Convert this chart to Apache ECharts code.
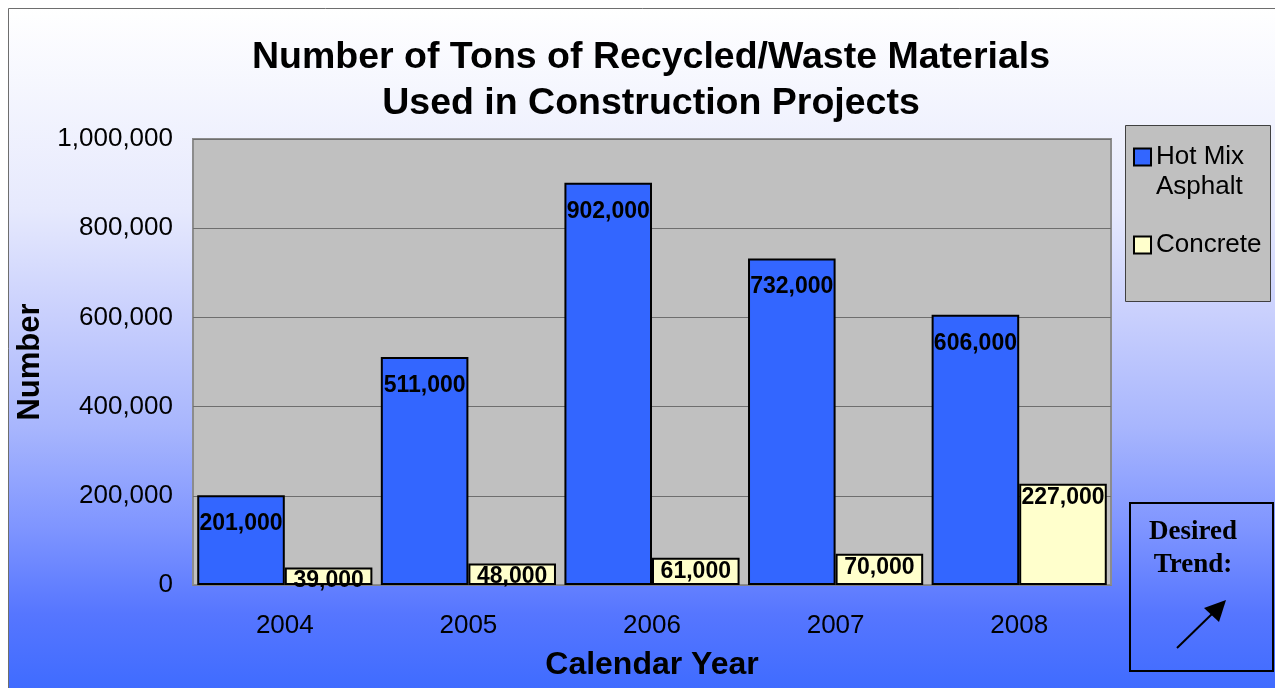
<!DOCTYPE html>
<html>
<head>
<meta charset="utf-8">
<script src="https://cdn.jsdelivr.net/npm/echarts@6/dist/echarts.min.js"></script>
<style>
  html, body { margin: 0; padding: 0; background: #ffffff; }
  #chart { width: 1275px; height: 688px; }
</style>
</head>
<body>
<div id="chart"></div>
<script>
// Tons of recycled / waste materials used, by calendar year
const years = ['2004', '2005', '2006', '2007', '2008'];
const hotMixAsphalt = [201000, 511000, 902000, 732000, 606000];
const concrete = [39000, 48000, 61000, 70000, 227000];
const yTicks = [0, 200000, 400000, 600000, 800000, 1000000];

const fmt = v => v.toLocaleString('en-US');
const font = '"Liberation Sans", Arial, sans-serif';

const chart = echarts.init(document.getElementById('chart'), null, { renderer: 'canvas' });

const labelStyle = {
  show: true,
  position: 'insideTop',
  distance: 17,
  color: '#000',
  fontFamily: font,
  fontWeight: 'bold',
  fontSize: 23,
  formatter: p => fmt(p.value)
};

chart.setOption({
  animation: false,
  graphic: [
    // page background with gradient and frame
    {
      type: 'rect', z: -10, silent: true,
      shape: { x: 8.5, y: 8.5, width: 1300, height: 720 },
      style: {
        fill: new echarts.graphic.LinearGradient(0, 0, 0, 1, [
          { offset: 0, color: '#ffffff' },
          { offset: 0.28, color: '#e6e9fd' },
          { offset: 0.43, color: '#c8cffd' },
          { offset: 0.58, color: '#a8b6fd' },
          { offset: 0.72, color: '#7f95ff' },
          { offset: 0.84, color: '#5676ff' },
          { offset: 1, color: '#3366ff' }
        ]),
        stroke: '#6e6e6e', lineWidth: 1
      }
    },
    // legend box
    {
      type: 'rect', z: -5, silent: true,
      shape: { x: 1125.5, y: 125.5, width: 145, height: 176 },
      style: { fill: '#c0c0c0', stroke: '#404040', lineWidth: 1 }
    },
    // desired trend box
    {
      type: 'rect', z: 5, silent: true,
      shape: { x: 1130, y: 503, width: 143, height: 168 },
      style: { fill: 'transparent', stroke: '#000', lineWidth: 2 }
    },
    {
      type: 'text', z: 6, silent: true,
      style: {
        x: 1193, y: 516, text: 'Desired\nTrend:', align: 'center', verticalAlign: 'top',
        font: 'bold 27px "Liberation Serif", "Times New Roman", serif', lineHeight: 33, fill: '#000'
      }
    },
    {
      type: 'line', z: 6, silent: true,
      shape: { x1: 1177, y1: 648, x2: 1214, y2: 612 },
      style: { stroke: '#000', lineWidth: 2 }
    },
    {
      type: 'polygon', z: 6, silent: true,
      shape: { points: [[1226, 600], [1219, 622], [1204, 608]] },
      style: { fill: '#000' }
    }
  ],
  title: {
    text: 'Number of Tons of Recycled/Waste Materials\nUsed in Construction Projects',
    left: 646, top: 30, textAlign: 'center',
    textStyle: { fontFamily: font, fontWeight: 'bold', fontSize: 37.5, lineHeight: 46, color: '#000' }
  },
  legend: {
    orient: 'vertical',
    left: 1128, top: 107,
    itemWidth: 17, itemHeight: 17, itemGap: 28,
    icon: 'rect',
    itemStyle: { borderColor: '#000', borderWidth: 2 },
    textStyle: { fontFamily: font, fontSize: 26, color: '#000', lineHeight: 30 },
    // the two-line entry keeps its swatch beside the first line
    formatter: name => name === 'Hot Mix Asphalt' ? '\nHot Mix\nAsphalt' : name,
    data: ['Hot Mix Asphalt', 'Concrete']
  },
  grid: {
    left: 193, right: 164, top: 139, bottom: 103,
    outerBoundsMode: 'none',
    show: true, backgroundColor: '#c0c0c0', borderColor: '#8c8c8c', borderWidth: 2
  },
  xAxis: {
    type: 'category',
    data: years,
    name: 'Calendar Year',
    nameLocation: 'middle',
    nameGap: 64,
    nameTextStyle: { fontFamily: font, fontWeight: 'bold', fontSize: 32, color: '#000' },
    axisLine: { show: true, lineStyle: { color: '#808080', width: 1 } },
    axisTick: { show: false },
    axisLabel: { fontFamily: font, fontSize: 26, color: '#000', margin: 28 }
  },
  yAxis: {
    type: 'value',
    min: yTicks[0], max: yTicks[yTicks.length - 1], interval: 200000,
    name: 'Number',
    nameLocation: 'middle',
    nameGap: 138,
    nameTextStyle: { fontFamily: font, fontWeight: 'bold', fontSize: 31, color: '#000' },
    axisLine: { show: false },
    axisTick: { show: false },
    splitLine: { lineStyle: { color: '#6e6e6e', width: 1 } },
    axisLabel: { fontFamily: font, fontSize: 26, color: '#000', margin: 20, formatter: v => fmt(v) }
  },
  series: [
    {
      name: 'Hot Mix Asphalt', type: 'bar', data: hotMixAsphalt,
      barGap: '0%', barCategoryGap: '4.6%',
      itemStyle: { color: '#3366ff', borderColor: '#000', borderWidth: 2 },
      label: labelStyle
    },
    {
      name: 'Concrete', type: 'bar', data: concrete,
      itemStyle: { color: '#ffffcc', borderColor: '#000', borderWidth: 2 },
      label: Object.assign({}, labelStyle, { distance: 2 })
    }
  ]
});
</script>
</body>
</html>
